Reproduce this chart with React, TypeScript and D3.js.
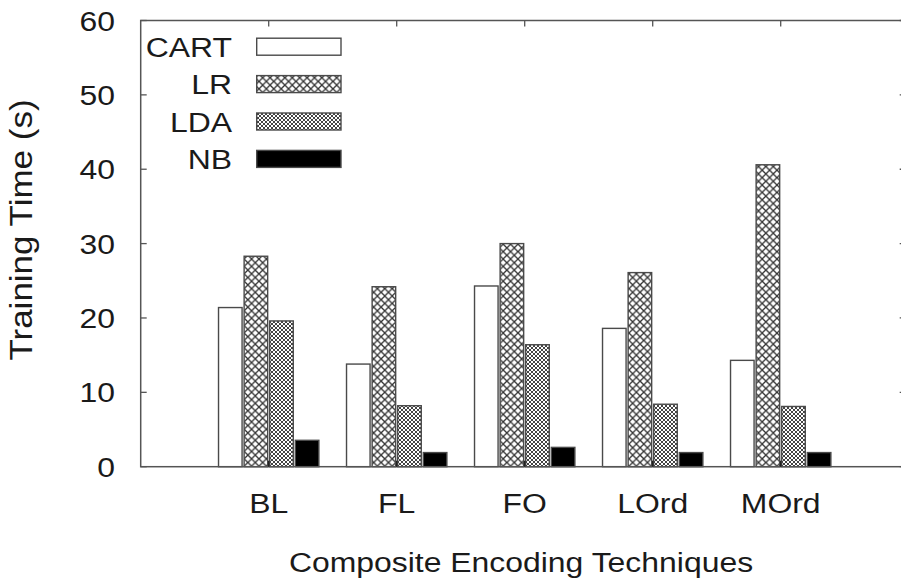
import React from 'react'
import * as d3 from 'd3'

// training time per encoding technique (seconds)
const categories = ['BL', 'FL', 'FO', 'LOrd', 'MOrd']
const seriesNames = ['CART', 'LR', 'LDA', 'NB']
const cart = [21.4, 13.8, 24.3, 18.6, 14.3]
const lr = [28.3, 24.2, 30.0, 26.1, 40.6]
const lda = [19.6, 8.2, 16.4, 8.4, 8.1]
const nb = [3.55, 1.9, 2.6, 1.9, 1.9]
const yTicks = [0, 10, 20, 30, 40, 50, 60]

const seriesValues = [cart, lr, lda, nb]
const fills = ['#ffffff', 'url(#hatchLR)', 'url(#hatchLDA)', '#000000']

const font = '"Liberation Sans", Arial, Helvetica, sans-serif'
const ink = '#1a1a1a'
const axisColor = '#555'
const stretch = 1.14 // the original text is a bit wider than tall

function Label(props: {x: number, y: number, anchor: string, dy?: string, children: any}) {
    return (
        <g transform={`translate(${props.x},${props.y}) scale(${stretch},1)`}>
            <text textAnchor={props.anchor} dy={props.dy} fontSize={28} fill={ink}>{props.children}</text>
        </g>
    )
}

export default function App() {
    const left = 140.7, right = 908.7, top = 20.5, bottom = 466.7

    const x = d3.scaleLinear().domain([-1, 5]).range([left, right])
    const y = d3.scaleLinear().domain([0, 60]).range([bottom, top])
    const groupW = (x(1) - x(0)) * 0.784
    const inner = d3.scaleBand<string>()
        .domain(seriesNames)
        .range([-groupW / 2, groupW / 2])
        .paddingInner(0.08)

    const tickLen = 6

    return (
        <svg width={901} height={578} style={{position: 'absolute', left: 0, top: 0, background: '#fff'}}
             fontFamily={font}>
            <defs>
                <pattern id="hatchLR" patternUnits="userSpaceOnUse" width={7.4} height={7.4}>
                    <rect width={7.4} height={7.4} fill="#fff"/>
                    <path d="M0,0L7.4,7.4M7.4,0L0,7.4" stroke="#333" strokeWidth={1.3}/>
                </pattern>
                <pattern id="hatchLDA" patternUnits="userSpaceOnUse" width={4} height={4}>
                    <rect width={4} height={4} fill="#fff"/>
                    <path d="M0,0L4,4M4,0L0,4" stroke="#444" strokeWidth={1}/>
                </pattern>
            </defs>

            {/* bars */}
            {categories.map((c, i) => (
                <g key={c}>
                    {seriesNames.map((s, j) => {
                        const v = seriesValues[j][i]
                        return (
                            <rect key={s}
                                  x={x(i) + (inner(s) as number)}
                                  y={y(v)}
                                  width={inner.bandwidth()}
                                  height={y(0) - y(v)}
                                  fill={fills[j]}
                                  stroke="#4a4a4a"
                                  strokeWidth={1.4}/>
                        )
                    })}
                </g>
            ))}

            {/* frame */}
            <rect x={left} y={top} width={right - left} height={bottom - top}
                  fill="none" stroke={axisColor} strokeWidth={1.5}/>

            {/* y ticks, mirrored on the right */}
            {yTicks.map(t => (
                <g key={t}>
                    <line x1={left} x2={left + tickLen} y1={y(t)} y2={y(t)} stroke={axisColor} strokeWidth={1.3}/>
                    <line x1={right} x2={right - tickLen - 3} y1={y(t)} y2={y(t)} stroke={axisColor} strokeWidth={1.3}/>
                    <Label x={115} y={y(t)} dy="0.36em" anchor="end">{t}</Label>
                </g>
            ))}

            {/* x ticks, mirrored on top */}
            {categories.map((c, i) => (
                <g key={c}>
                    <line x1={x(i)} x2={x(i)} y1={bottom} y2={bottom - tickLen} stroke="#222" strokeWidth={1.5}/>
                    <line x1={x(i)} x2={x(i)} y1={top} y2={top + tickLen} stroke={axisColor} strokeWidth={1.3}/>
                    <Label x={x(i)} y={513} anchor="middle">{c}</Label>
                </g>
            ))}

            {/* legend */}
            {seriesNames.map((s, j) => {
                const cy = 46.7 + j * 37.4
                return (
                    <g key={s}>
                        <Label x={232} y={cy} dy="0.36em" anchor="end">{s}</Label>
                        <rect x={256.7} y={cy - 8.5} width={84.3} height={17}
                              fill={fills[j]} stroke="#4a4a4a" strokeWidth={1.4}/>
                    </g>
                )
            })}

            {/* axis titles */}
            <text transform="translate(32,230) rotate(-90) scale(1,0.92)" textAnchor="middle" fontSize={35} fill={ink}>
                Training Time (s)
            </text>
            <Label x={521} y={572} anchor="middle">Composite Encoding Techniques</Label>
        </svg>
    )
}
